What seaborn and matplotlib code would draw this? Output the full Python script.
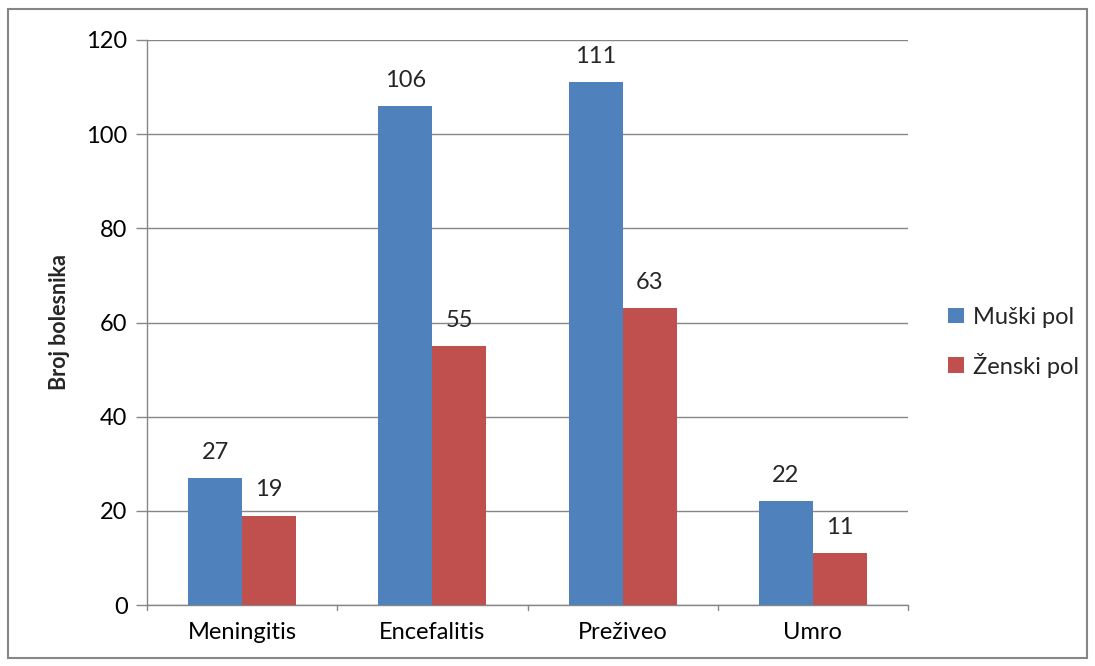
import matplotlib
matplotlib.use("Agg")
import matplotlib.pyplot as plt
import seaborn as sns
import pandas as pd
from matplotlib.patches import Rectangle

categories = ["Meningitis", "Encefalitis", "Preživeo", "Umro"]
muski = [27, 106, 111, 22]
zenski = [19, 55, 63, 11]
series_names = ["Muški pol", "Ženski pol"]
y_ticks = [0, 20, 40, 60, 80, 100, 120]

df = pd.DataFrame({
    "kategorija": categories * 2,
    "pol": [series_names[0]] * len(categories) + [series_names[1]] * len(categories),
    "broj": muski + zenski,
})

sns.set_theme(style="white")
plt.rcParams["font.family"] = ["Lato", "DejaVu Sans"]

fs = 17
axis_color = "#868686"
fig = plt.figure(figsize=(10.95, 6.66), dpi=100)
ax = fig.add_axes([147 / 1095, 1 - 605 / 666, (908 - 147) / 1095, (605 - 40) / 666])

palette = {series_names[0]: "#4f81bd", series_names[1]: "#c0504d"}
sns.barplot(data=df, x="kategorija", y="broj", hue="pol", order=categories,
            hue_order=series_names, palette=palette, width=0.568,
            saturation=1, ax=ax, legend=True, zorder=3, linewidth=0)

ax.set_ylim(0, 120)
ax.set_xlim(-0.5, len(categories) - 0.5)
ax.set_yticks(y_ticks)
ax.set_yticklabels([str(t) for t in y_ticks], fontsize=fs, color="black")
ax.yaxis.grid(True, color=axis_color, linewidth=1.0, zorder=0)
ax.set_axisbelow(True)
ax.set_xticks(range(len(categories)))
ax.set_xticklabels(categories, fontsize=fs, color="black")
ax.tick_params(axis="x", length=0, pad=12)
ax.tick_params(axis="y", length=8, width=1, color=axis_color, pad=6, left=True)

# category separator ticks on the x axis
for b in [i - 0.5 for i in range(len(categories) + 1)]:
    ax.plot([b, b], [0, -1.0], color=axis_color, lw=1, clip_on=False)

for side in ["top", "right"]:
    ax.spines[side].set_visible(False)
for side in ["left", "bottom"]:
    ax.spines[side].set_color(axis_color)
    ax.spines[side].set_linewidth(1.0)

ax.set_xlabel("")
ax.set_ylabel("Broj bolesnika", fontsize=15.5, fontweight="bold", labelpad=12)

for container in ax.containers:
    ax.bar_label(container, labels=[f"{v:.0f}" for v in container.datavalues],
                 padding=11, fontsize=fs)

handles, labels = ax.get_legend_handles_labels()
leg = ax.legend(handles, labels, loc="center left", bbox_to_anchor=(1.025, 0.465),
                frameon=False, fontsize=fs, handlelength=0.65, handleheight=0.65,
                handletextpad=0.4, labelspacing=1.05)

# outer chart border
fig.patches.append(Rectangle((8 / 1095, 1 - 658 / 666), (1087 - 8) / 1095, (658 - 9) / 666,
                             transform=fig.transFigure, fill=False,
                             edgecolor=axis_color, linewidth=1.5))

fig.savefig("out.png", dpi=100)
